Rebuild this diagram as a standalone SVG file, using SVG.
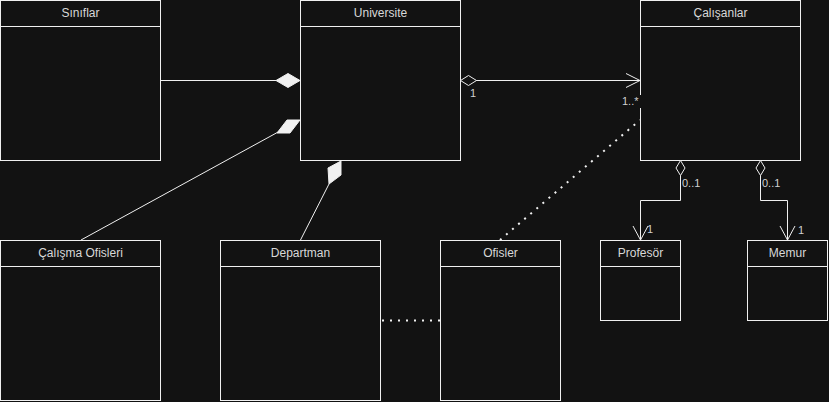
<svg xmlns="http://www.w3.org/2000/svg" width="829" height="402" viewBox="0 0 829 402">
<style>
.box{fill:#121212;stroke:#f0f0f0;stroke-width:1}
.t{font-family:"Liberation Sans",Arial,sans-serif;font-size:12px;fill:#d8d8d8;text-anchor:middle}
.l{font-family:"Liberation Sans",Arial,sans-serif;font-size:11px;fill:#d0d0d0}
.ln{fill:none;stroke:#f0f0f0;stroke-width:1}
.dot{fill:none;stroke:#f0f0f0;stroke-width:2;stroke-dasharray:2 6}
.fd{fill:#f0f0f0;stroke:#f0f0f0;stroke-width:1}
.od{fill:#121212;stroke:#f0f0f0;stroke-width:1}
</style>
<rect x="0" y="0" width="829" height="402" fill="#121212"/>
<g id="siniflar">
<rect class="box" x="0.5" y="0.5" width="160" height="160"/>
<line class="ln" x1="0.5" y1="26.5" x2="160.5" y2="26.5"/>
<text class="t" x="80.5" y="17">Sınıflar</text>
</g>
<g id="universite">
<rect class="box" x="300.5" y="0.5" width="160" height="160"/>
<line class="ln" x1="300.5" y1="26.5" x2="460.5" y2="26.5"/>
<text class="t" x="380.5" y="17">Universite</text>
</g>
<g id="calisanlar">
<rect class="box" x="640.5" y="0.5" width="160" height="160"/>
<line class="ln" x1="640.5" y1="26.5" x2="800.5" y2="26.5"/>
<text class="t" x="720.5" y="17">Çalışanlar</text>
</g>
<g id="calisma-ofisleri">
<rect class="box" x="0.5" y="240.5" width="160" height="160"/>
<line class="ln" x1="0.5" y1="266.5" x2="160.5" y2="266.5"/>
<text class="t" x="80.5" y="257">Çalışma Ofisleri</text>
</g>
<g id="departman">
<rect class="box" x="220.5" y="240.5" width="160" height="160"/>
<line class="ln" x1="220.5" y1="266.5" x2="380.5" y2="266.5"/>
<text class="t" x="300.5" y="257">Departman</text>
</g>
<g id="ofisler">
<rect class="box" x="440.5" y="240.5" width="120" height="160"/>
<line class="ln" x1="440.5" y1="266.5" x2="560.5" y2="266.5"/>
<text class="t" x="500.5" y="257">Ofisler</text>
</g>
<g id="profesor">
<rect class="box" x="600.5" y="240.5" width="80" height="80"/>
<line class="ln" x1="600.5" y1="266.5" x2="680.5" y2="266.5"/>
<text class="t" x="640.5" y="257">Profesör</text>
</g>
<g id="memur">
<rect class="box" x="747.5" y="240.5" width="80" height="80"/>
<line class="ln" x1="747.5" y1="266.5" x2="827.5" y2="266.5"/>
<text class="t" x="787.5" y="257">Memur</text>
</g>
<g id="connectors">
<line class="ln" x1="160.5" y1="80.5" x2="276" y2="80.5"/>
<polygon class="fd" points="276,80.5 288,73.5 300,80.5 288,87.5"/>
<line class="ln" x1="81" y1="240" x2="280" y2="131"/>
<polygon class="fd" points="277,133 287,120 300,120 290,133"/>
<line class="ln" x1="300.5" y1="240" x2="329" y2="184"/>
<polygon class="fd" points="328,168 341,161 341,175 329,184"/>
<line class="ln" x1="476" y1="80.5" x2="640" y2="80.5"/>
<polygon class="od" points="460.5,80.5 468.5,75.5 476.5,80.5 468.5,85.5"/>
<polyline class="ln" points="626,73.5 640,80.5 626,87.5"/>
<line class="dot" x1="500" y1="240" x2="640" y2="120"/>
<line class="dot" x1="382" y1="320.5" x2="440" y2="320.5"/>
<polygon class="od" points="680.5,160.5 685,168 680.5,175.5 676,168"/>
<polyline class="ln" points="680.5,175.5 680.5,200.5 640.5,200.5 640.5,240"/>
<polyline class="ln" points="633,226 640.5,240 648,226"/>
<polygon class="od" points="760.5,160.5 765,168 760.5,175.5 756,168"/>
<polyline class="ln" points="760.5,175.5 760.5,200.5 787.5,200.5 787.5,240"/>
<polyline class="ln" points="780,226 787.5,240 795,226"/>
<text class="l" x="470" y="97">1</text>
<rect x="621" y="95" width="22" height="13" fill="#121212"/>
<text class="l" x="622" y="105">1..*</text>
<text class="l" x="682" y="187">0..1</text>
<text class="l" x="762" y="187">0..1</text>
<text class="l" x="647" y="233">1</text>
<text class="l" x="798" y="234">1</text>
</g>
</svg>
